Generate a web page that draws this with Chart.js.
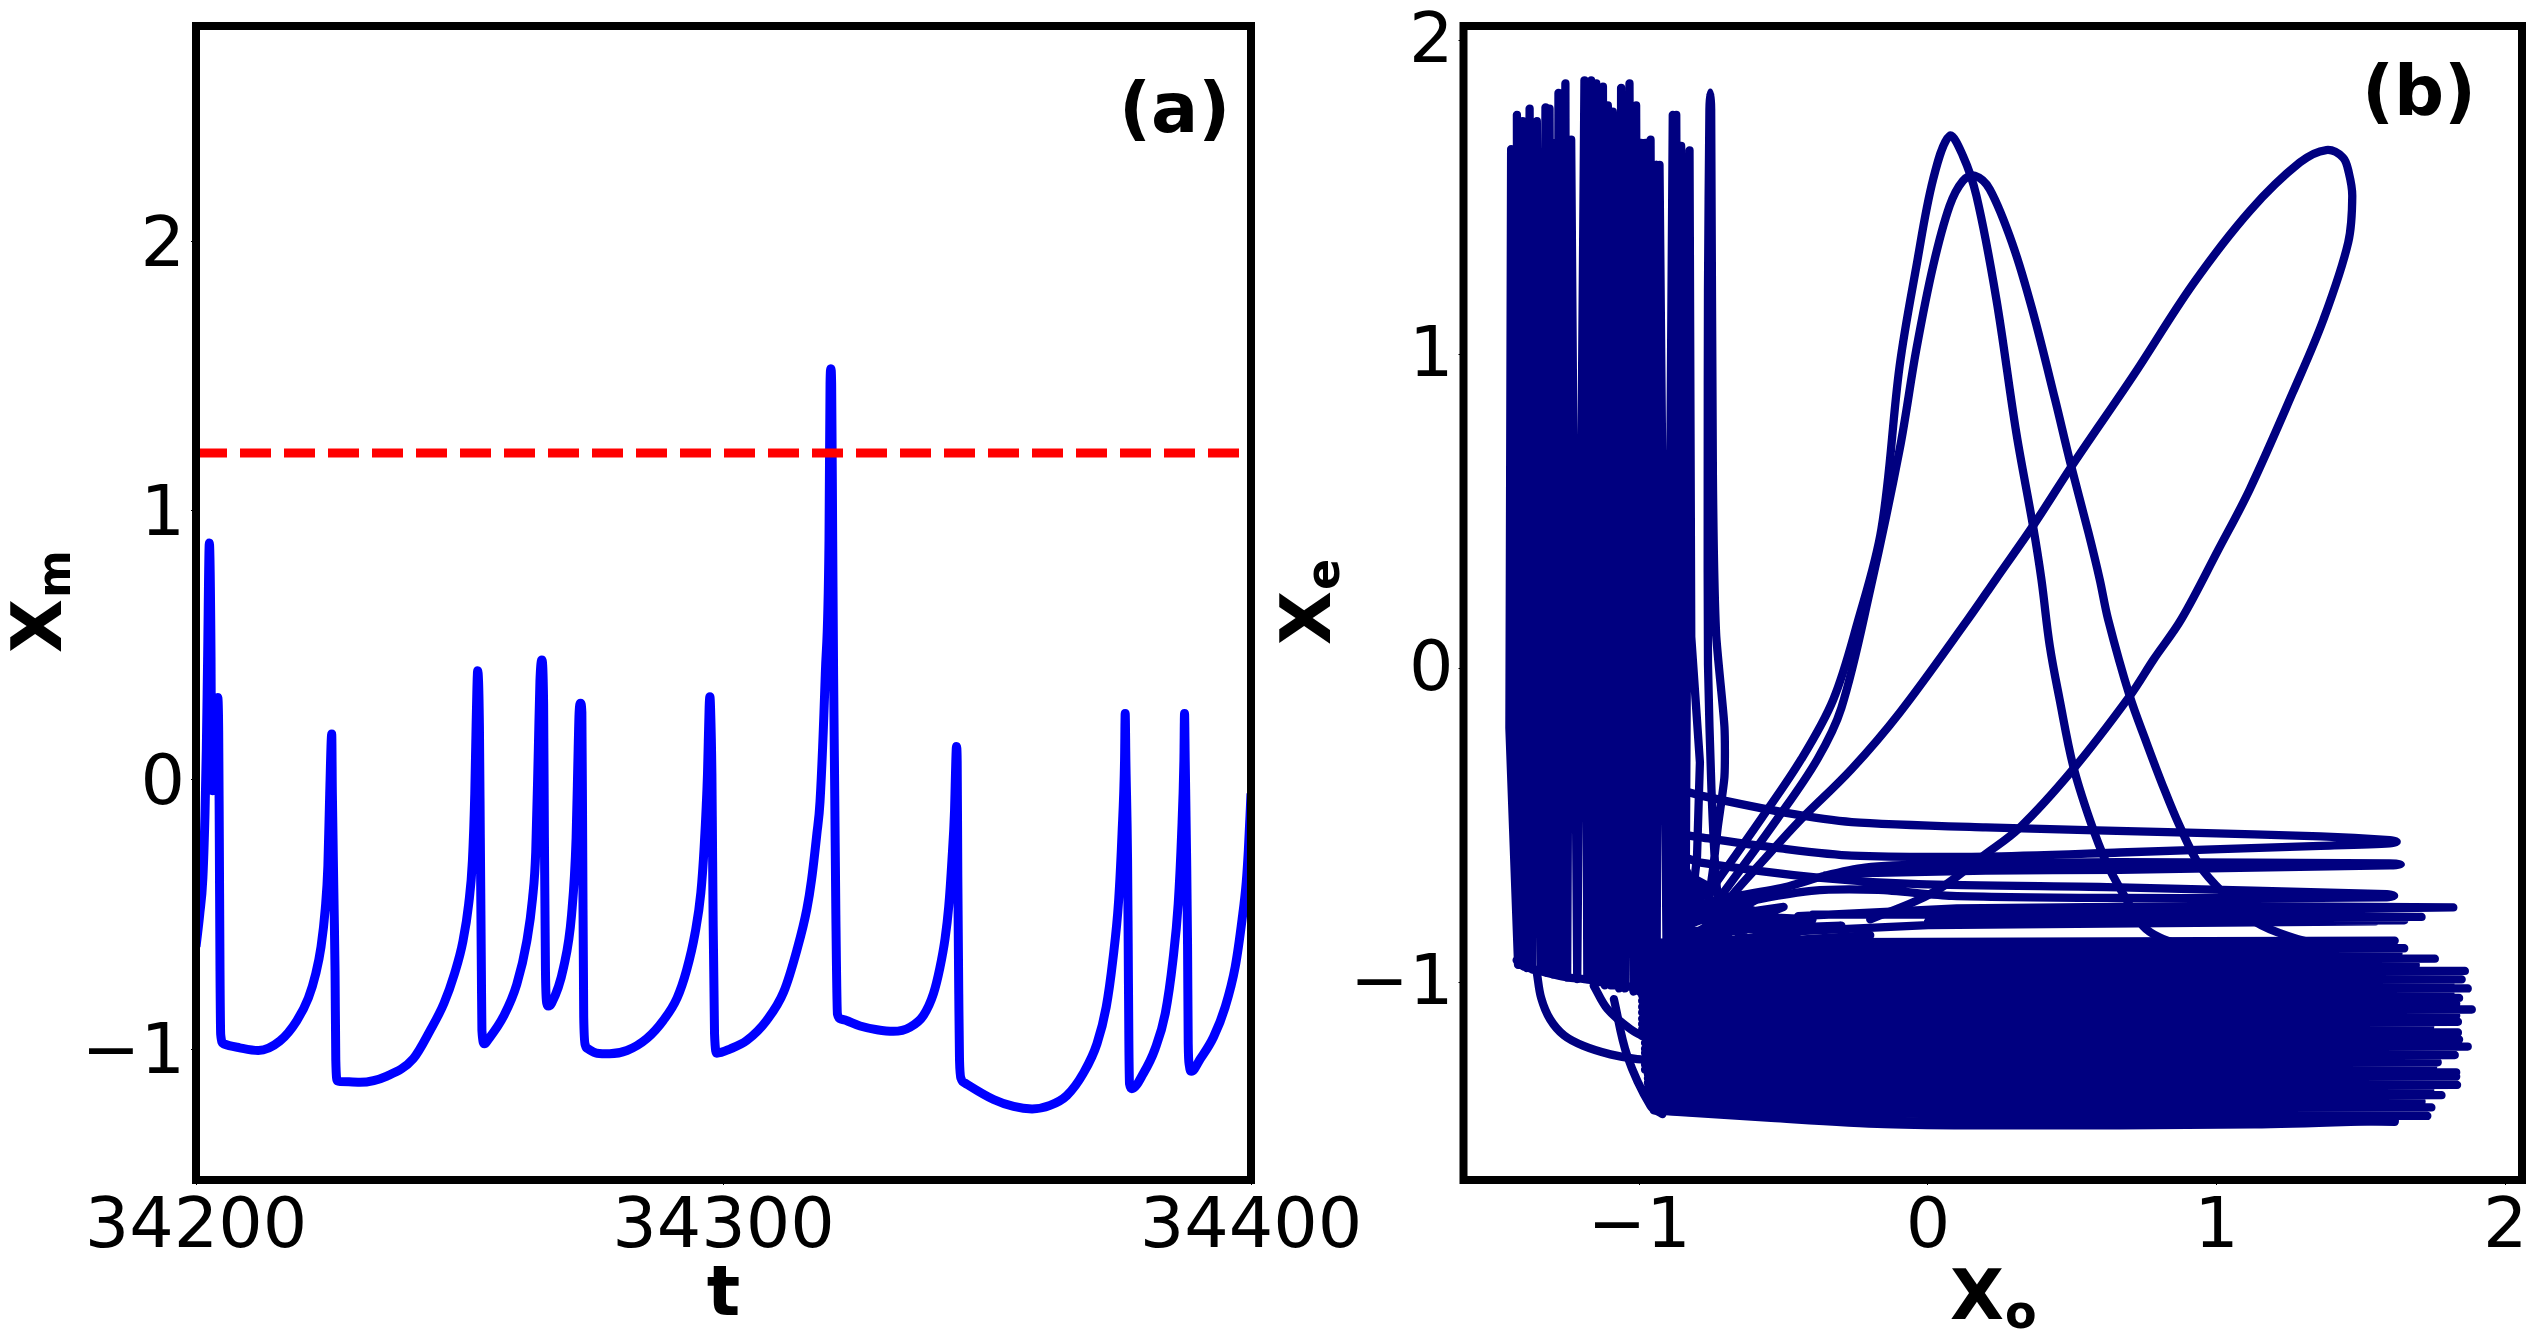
<!DOCTYPE html>
<html>
<head>
<meta charset="utf-8">
<title>Xm, Xe, Xo</title>
<script src="https://cdn.jsdelivr.net/npm/chart.js@4"></script>
<style>
  html, body { margin: 0; padding: 0; background: #fff; }
  canvas { position: absolute; top: 0; }
  #chart-a { left: 0; }
  #chart-b { left: 1270px; }
</style>
</head>
<body>
<canvas id="chart-a" width="1390" height="1339"></canvas>
<canvas id="chart-b" width="1268" height="1339"></canvas>
<script>
// panel (a): time series
const tTicks = [34200, 34300, 34400];
const xmTicks = [-1, 0, 1, 2];
const threshold = 1.2145;
const tValues = [
  34200, 34200.7, 34201.3, 34201.7, 34201.96, 34202.2, 34202.53, 34202.85, 34202.97, 34203.1, 34203.48, 34203.8, 34204.1, 34204.3, 34204.42, 34204.55, 34204.68, 34205.2,
  34208.3, 34211.8, 34215.9, 34219.1, 34221.3, 34222.7, 34223.7, 34224.5, 34225, 34225.35, 34225.73, 34225.85, 34226.17, 34226.36, 34226.5, 34226.8, 34227.3,
  34231.1, 34236.2, 34241.2, 34244.4, 34247, 34249, 34250.6, 34251.7, 34252.4, 34252.85, 34253.1, 34253.4, 34253.73, 34253.9, 34254.1, 34254.2, 34254.68, 34255.4,
  34258.3, 34260.8, 34262.7, 34263.8, 34264.4, 34264.9, 34265.2, 34265.55, 34265.9, 34266.05, 34266.25, 34266.5, 34266.8, 34267.4,
  34269.7, 34271.2, 34272.06, 34272.45, 34272.63, 34272.9, 34273.15, 34273.3, 34273.5, 34273.8, 34274.4,
  34276, 34278.4, 34281.7, 34285.5, 34288.6, 34291.2, 34293, 34294.6, 34295.7, 34296.33, 34296.97, 34297.28, 34297.42, 34297.54, 34297.8, 34297.9, 34298, 34298.3, 34298.74,
  34301.3, 34304.4, 34308.2, 34311.4, 34313.9, 34315.8, 34316.7, 34317.7, 34318.3, 34319.3, 34320, 34320.2, 34320.35, 34320.5, 34320.7, 34320.87, 34321.1, 34321.3, 34321.6, 34322.2,
  34325.9, 34329.1, 34332.2, 34335.4, 34337.9, 34339.8, 34341, 34342, 34342.7, 34343.3, 34343.8, 34344.04, 34344.17, 34344.3, 34344.42, 34344.6, 34344.74, 34345.05, 34345.8,
  34351.2, 34355, 34358.5, 34361.9, 34365.1, 34368.2, 34370.8, 34372.55, 34373.8, 34374.9, 34375.55, 34376.03, 34376.15, 34376.28, 34376.6, 34376.72, 34376.85, 34376.97, 34377.4,
  34379.6, 34381.8, 34383.74, 34385.2, 34386.2, 34386.85, 34387.28, 34387.4, 34387.53, 34387.8, 34387.97, 34388.1, 34388.3, 34388.7,
  34390.4, 34392.9, 34395.1, 34397, 34398.3, 34399.1, 34399.5, 34399.86, 34400
];
const xmValues = [
  -0.62, -0.5, -0.365, -0.13, 0.116, 0.447, 0.88, 0.447, -0.036, -0.04, -0.036, 0.18, 0.306, 0.18, -0.215, -0.71, -0.945, -0.98,
  -0.995, -1.005, -0.97, -0.895, -0.81, -0.72, -0.62, -0.48, -0.32, -0.05, 0.17, -0.05, -0.46, -0.71, -1.04, -1.118, -1.12,
  -1.123, -1.1, -1.035, -0.93, -0.83, -0.72, -0.6, -0.46, -0.3, -0.05, 0.2, 0.405, 0.2, -0.215, -0.71, -0.93, -0.98, -0.964,
  -0.878, -0.76, -0.6, -0.44, -0.27, 0.116, 0.365, 0.445, 0.28, -0.215, -0.71, -0.83, -0.84, -0.83,
  -0.695, -0.5, -0.215, 0.116, 0.25, 0.285, 0.25, -0.215, -0.88, -0.985, -1.0,
  -1.015, -1.017, -1.005, -0.96, -0.893, -0.81, -0.707, -0.57, -0.42, -0.25, 0.024, 0.27, 0.309, 0.27, 0.024, -0.2, -0.447, -0.943, -1.015,
  -0.999, -0.968, -0.893, -0.788, -0.633, -0.48, -0.37, -0.2, -0.08, 0.395, 0.89, 1.47, 1.527, 1.47, 0.89, 0.395, -0.0755, -0.5, -0.87, -0.888,
  -0.914, -0.928, -0.934, -0.918, -0.875, -0.794, -0.7, -0.59, -0.47, -0.3, -0.113, 0.07, 0.124, 0.07, -0.36, -0.794, -1.04, -1.11, -1.126,
  -1.187, -1.213, -1.222, -1.209, -1.172, -1.09, -0.98, -0.844, -0.67, -0.45, -0.2, 0.073, 0.247, 0.073, -0.298, -0.608, -0.98, -1.129, -1.147,
  -1.09, -1.0, -0.868, -0.67, -0.46, -0.2, 0.073, 0.247, 0.073, -0.298, -0.608, -0.98, -1.06, -1.082,
  -1.036, -0.955, -0.844, -0.695, -0.52, -0.38, -0.26, -0.113, -0.05
];

// panel (b): phase portrait, one trajectory read as pieces
const xoTicks = [-1, 0, 1, 2];
const xeTicks = [-1, 0, 1, 2];
const columnXo = [-1.42, -1.45, -1.444, -1.42, -1.424, -1.40, -1.404, -1.39, -1.38, -1.37, -1.355, -1.34, -1.325, -1.32, -1.311, -1.30, -1.294, -1.285, -1.28, -1.27, -1.256, -1.25, -1.236, -1.215, -1.19, -1.18, -1.167, -1.16, -1.149, -1.14, -1.126, -1.12, -1.109, -1.10, -1.092, -1.09, -1.082, -1.07, -1.063, -1.05, -1.034, -1.02, -1.011, -1.0, -0.994, -0.985, -0.979, -0.97, -0.961, -0.95, -0.942, -0.94, -0.93, -0.905, -0.884, -0.88, -0.872, -0.86, -0.855, -0.84, -0.826, -0.82, -0.79, -0.8, -0.83];
const columnXe = [-0.94, -0.19, 1.653, -0.945, 1.762, -0.95, 1.742, -0.955, 1.782, -0.96, 1.742, -0.965, 1.786, -0.97, 1.782, -0.975, 1.673, -0.975, 1.832, -0.98, 1.862, -0.985, 1.683, -0.99, 1.872, -0.99, 1.872, -0.995, 1.862, -1.0, 1.852, -1.01, 1.792, -1.01, 1.772, -1.01, 1.683, -1.02, 1.848, -1.02, 1.862, -1.03, 1.792, -1.03, 1.673, -1.0, 1.673, -1.0, 1.683, -1.0, 1.603, -0.95, 1.603, -0.95, 1.762, -0.9, 1.762, -0.9, 1.663, -0.85, 1.649, 0.1, -0.3, -0.6, -0.85];
const columnFloorXo = [-1.425, -1.41, -1.35, -1.3, -1.25, -1.19, -1.12, -1.0];
const columnFloorXe = [-0.93, -0.945, -0.963, -0.975, -0.985, -0.99, -1.0, -1.02];
const bandXo = [1.617, -0.99, 1.59, -0.99, 1.65, -0.99, 1.63, -0.99, 1.756, -0.99, 1.69, -0.99, 1.86, -0.99, 1.79, -0.99, 1.849, -0.99, 1.81, -0.99, 1.87, -0.99, 1.81, -0.99, 1.84, -0.99, 1.83, -0.99, 1.884, -0.99, 1.83, -0.99, 1.836, -0.99, 1.74, -0.99, 1.836, -0.99, 1.84, -0.98, 1.87, -0.98, 1.81, -0.98, 1.825, -0.98, 1.766, -0.98, 1.75, -0.98, 1.83, -0.97, 1.83, -0.97, 1.79, -0.97, 1.833, -0.97, 1.74, -0.97, 1.779, -0.96, 1.71, -0.96, 1.744, -0.95, 1.69, -0.95, 1.73, -0.95, 1.617];
const bandXe = [-0.868, -0.874, -0.88, -0.886, -0.892, -0.9, -0.908, -0.916, -0.925, -0.935, -0.945, -0.955, -0.964, -0.971, -0.978, -0.985, -0.991, -0.998, -1.005, -1.012, -1.02, -1.028, -1.035, -1.042, -1.05, -1.059, -1.068, -1.078, -1.087, -1.096, -1.106, -1.116, -1.126, -1.133, -1.14, -1.15, -1.16, -1.171, -1.182, -1.193, -1.205, -1.212, -1.218, -1.225, -1.232, -1.243, -1.255, -1.262, -1.27, -1.278, -1.287, -1.293, -1.30, -1.306, -1.313, -1.32, -1.327, -1.335, -1.343, -1.351, -1.36, -1.37, -1.38, -1.39, -1.399, -1.403, -1.412, -1.405, -1.426, -1.405, -1.445];
const floorXo = [-0.95, -0.543, -0.15, 0.2, 1.13, 1.617];
const floorXe = [-1.408, -1.432, -1.452, -1.456, -1.453, -1.44];
const floorUpperXo = [-0.9, -0.2, 0.5, 1.6];
const floorUpperXe = [-1.41, -1.44, -1.445, -1.43];
const bigLoopXo = [-0.775, -0.68, -0.566, -0.45, -0.265, -0.098, 0.139, 0.235, 0.364, 0.503, 0.711, 0.918, 1.115, 1.288, 1.38, 1.438, 1.458, 1.47, 1.456, 1.37, 1.264, 1.115, 1.007, 0.878, 0.782, 0.699, 0.503, 0.318, 0.191, 0.064, -0.04, -0.2];
const bigLoopXe = [-0.84, -0.725, -0.608, -0.491, -0.322, -0.142, 0.156, 0.283, 0.453, 0.65, 0.931, 1.223, 1.456, 1.61, 1.65, 1.626, 1.578, 1.504, 1.356, 1.11, 0.878, 0.57, 0.379, 0.156, 0.028, -0.089, -0.322, -0.508, -0.598, -0.688, -0.741, -0.8];
const tallLoopXo = [-0.745, -0.578, -0.439, -0.328, -0.244, -0.161, -0.098, -0.04, 0.018, 0.075, 0.121, 0.168, 0.237, 0.306, 0.364, 0.393, 0.422, 0.456, 0.503, 0.56, 0.618, 0.687, 0.745, 0.803, 0.9];
const tallLoopXe = [-0.698, -0.48, -0.29, -0.1, 0.145, 0.444, 0.963, 1.28, 1.557, 1.695, 1.632, 1.504, 1.175, 0.75, 0.453, 0.283, 0.071, -0.099, -0.311, -0.481, -0.619, -0.736, -0.821, -0.858, -0.89];
const shortLoopXo = [-0.717, -0.522, -0.383, -0.3, -0.2, -0.098, -0.04, 0.018, 0.075, 0.121, 0.162, 0.214, 0.295, 0.364, 0.44, 0.493, 0.556, 0.595, 0.624, 0.699, 0.757, 0.814, 0.872, 0.942, 1.022, 1.138, 1.265, 1.4];
const shortLoopXe = [-0.726, -0.48, -0.29, -0.127, 0.25, 0.697, 1.016, 1.281, 1.472, 1.552, 1.568, 1.525, 1.345, 1.133, 0.857, 0.655, 0.432, 0.283, 0.156, -0.089, -0.237, -0.375, -0.503, -0.63, -0.715, -0.81, -0.858, -0.89];
const spikeXo = [-0.71, -0.733, -0.75, -0.762, -0.763, -0.762, -0.757, -0.754, -0.751, -0.745, -0.734, -0.705, -0.705, -0.728, -0.745, -0.77];
const spikeXe = [-0.863, -0.684, -0.386, 0.012, 0.6, 1.207, 1.78, 1.833, 1.78, 0.61, 0.112, -0.187, -0.346, -0.505, -0.644, -0.8];
const armAXo = [-0.85, -0.787, -0.496, -0.264, 0.2, 0.9, 1.36, 1.6, 1.624, 1.6, 1.36, 0.665, 0.2, -0.264, -0.5, -0.787, -0.85];
const armAXe = [-0.39, -0.406, -0.46, -0.49, -0.507, -0.524, -0.536, -0.548, -0.553, -0.558, -0.566, -0.587, -0.6, -0.597, -0.575, -0.539, -0.53];
const armBXo = [-0.729, -0.497, -0.357, -0.218, 0.014, 0.664, 1.6, 1.638, 1.6, 0.664, 0.2, -0.218, -0.357];
const armBXe = [-0.736, -0.698, -0.661, -0.635, -0.624, -0.618, -0.622, -0.625, -0.628, -0.642, -0.645, -0.653, -0.66];
const armCXo = [-0.85, -0.787, -0.381, -0.033, 0.664, 1.59, 1.615, 1.59, 1.128, 0.664, 0.083, -0.172, -0.404, -0.636, -0.775];
const armCXe = [-0.6, -0.619, -0.667, -0.688, -0.698, -0.72, -0.725, -0.73, -0.732, -0.732, -0.725, -0.706, -0.709, -0.746, -0.789];
const armDXo = [-0.45, 0.1, 1.0, 1.82, 1.0, -0.4, 0.3, 1.71, 0.3, 1.65, 0.0, 1.55, 0.0, -0.5];
const armDXe = [-0.79, -0.765, -0.757, -0.762, -0.772, -0.785, -0.785, -0.792, -0.795, -0.803, -0.808, -0.806, -0.818, -0.84];
const fanXo = [-0.86, -0.72, -0.85, -0.62, -0.83, -0.55, -0.82, -0.5, -0.8, -0.45, -0.85, -0.4, -0.84, -0.6, -0.9, -0.3, -0.88, -0.2, -0.9];
const fanXe = [-0.6, -0.87, -0.7, -0.87, -0.66, -0.8, -0.88, -0.76, -0.8, -0.84, -0.78, -0.8, -0.86, -0.74, -0.84, -0.82, -0.89, -0.85, -0.9];
const curveAXo = [-1.355, -1.34, -1.309, -1.26, -1.193, -1.1, -1.007, -0.9];
const curveAXe = [-0.969, -1.05, -1.118, -1.17, -1.203, -1.23, -1.245, -1.25];
const curveBXo = [-1.158, -1.11, -1.03, -0.97];
const curveBXe = [-1.011, -1.086, -1.15, -1.18];
const curveCXo = [-1.088, -1.042, -0.961, -0.92];
const curveCXe = [-1.054, -1.234, -1.394, -1.42];

const pts = (xs, ys) => xs.map((x, i) => ({ x, y: ys[i] }));
const FONT = '"DejaVu Sans"';
const NAVY = '#000080';

function subLabel(ctx, base, sub, x, y, rotated) {
  ctx.save();
  ctx.translate(x, y);
  if (rotated) ctx.rotate(-Math.PI / 2);
  ctx.font = 'bold 70px ' + FONT;
  ctx.fillText(base, 0, 0);
  const w = ctx.measureText(base).width;
  ctx.font = 'bold 46px ' + FONT;
  ctx.fillText(sub, w + 1, 9);
  ctx.restore();
}

// four-sided box, the (a)/(b) letter and X with a real subscript
const panelDecor = {
  id: 'panelDecor',
  afterDraw(chart, args, opts) {
    const { ctx, chartArea: c } = chart;
    ctx.save();
    ctx.strokeStyle = '#000';
    ctx.lineWidth = 8;
    ctx.strokeRect(c.left, c.top, c.right - c.left, c.bottom - c.top);
    ctx.fillStyle = '#000';
    ctx.textAlign = 'left';
    ctx.textBaseline = 'alphabetic';
    ctx.font = 'bold 70px ' + FONT;
    ctx.fillText(opts.letter, opts.x, opts.y);
    opts.labels.forEach(l => subLabel(ctx, 'X', l.sub, l.x, l.y, l.rotated));
    ctx.restore();
  }
};

function axis(min, max, ticks, boxSize, tickPad, labelOffset, isX, title) {
  return {
    type: 'linear',
    min, max,
    grid: { display: true, drawOnChartArea: false, drawTicks: true, tickLength: 5, tickWidth: 1, tickColor: '#000' },
    border: { display: false },
    title: { display: !!title, text: title || '', color: '#000', font: { family: FONT, size: 70, weight: 'bold' }, padding: { top: 0, bottom: 0 } },
    ticks: {
      color: '#000', padding: tickPad, autoSkip: false, maxRotation: 0, minRotation: 0,
      font: { family: FONT, size: 70 }, labelOffset,
      callback: v => String(v).replace('-', '\u2212')
    },
    afterBuildTicks: s => { s.ticks = ticks.map(v => ({ value: v })); },
    afterFit: s => {
      if (isX) s.height = boxSize; else s.width = boxSize;
      s.paddingLeft = s.paddingRight = s.paddingTop = s.paddingBottom = 0;
    }
  };
}

function baseOptions(padding, x, y, decor) {
  return {
    responsive: false,
    animation: false,
    layout: { padding },
    plugins: { legend: { display: false }, tooltip: { enabled: false }, panelDecor: decor },
    elements: { point: { radius: 0 } },
    scales: { x, y }
  };
}

new Chart(document.getElementById('chart-a'), {
  type: 'line',
  data: {
    datasets: [
      { data: pts([tTicks[0], tTicks[2]], [threshold, threshold]), borderColor: '#ff0000', borderWidth: 9, borderDash: [31, 13], borderCapStyle: 'butt' },
      { data: pts(tValues, xmValues), borderColor: '#0000ff', borderWidth: 9, cubicInterpolationMode: 'monotone', borderJoinStyle: 'round' }
    ]
  },
  options: baseOptions({ top: 26, right: 1390 - 1251, left: 0, bottom: 0 },
    axis(34200, 34400, tTicks, 1339 - 1180, 2, 0, true, 't'),
    axis(-1.486, 2.8, xmTicks, 196, 6, 6, false),
    { letter: '(a)', x: 1119, y: 132, labels: [{ sub: 'm', x: 61, y: 653, rotated: true }] }),
  plugins: [panelDecor]
});

const navyLine = (xs, ys, tension) => ({
  data: pts(xs, ys), borderColor: NAVY, borderWidth: 8.3, tension: tension, borderJoinStyle: 'round', borderCapStyle: 'round'
});

new Chart(document.getElementById('chart-b'), {
  type: 'scatter',
  data: {
    datasets: [
      navyLine(columnXo, columnXe, 0),
      navyLine(columnFloorXo, columnFloorXe, 0.3),
      navyLine(bandXo, bandXe, 0),
      navyLine(floorXo, floorXe, 0.3),
      navyLine(floorUpperXo, floorUpperXe, 0.3),
      navyLine(bigLoopXo, bigLoopXe, 0.35),
      navyLine(tallLoopXo, tallLoopXe, 0.35),
      navyLine(shortLoopXo, shortLoopXe, 0.35),
      navyLine(spikeXo, spikeXe, 0.2),
      navyLine(armAXo, armAXe, 0.25),
      navyLine(armBXo, armBXe, 0.25),
      navyLine(armCXo, armCXe, 0.25),
      navyLine(armDXo, armDXe, 0),
      navyLine(fanXo, fanXe, 0),
      navyLine(curveAXo, curveAXe, 0.35),
      navyLine(curveBXo, curveBXe, 0.35),
      navyLine(curveCXo, curveCXe, 0.35)
    ].map(d => Object.assign(d, { showLine: true }))
  },
  options: baseOptions({ top: 26, right: 16, left: 0, bottom: 0 },
    axis(-1.609, 2.058, xoTicks, 1339 - 1180, 2, 0, true),
    axis(-1.63, 2.045, xeTicks, 1463.5 - 1270, 5, 4, false),
    { letter: '(b)', x: 2362 - 1270, y: 115, labels: [
      { sub: 'o', x: 1950 - 1270, y: 1319, rotated: false },
      { sub: 'e', x: 1330 - 1270, y: 645, rotated: true }
    ] }),
  plugins: [panelDecor]
});
</script>
</body>
</html>
